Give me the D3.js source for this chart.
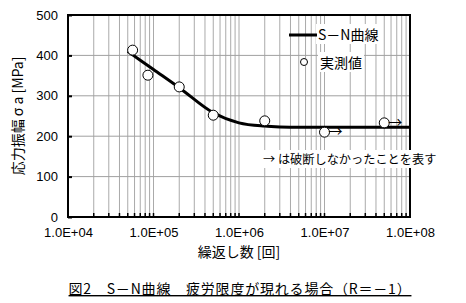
<!DOCTYPE html>
<html>
<head>
<meta charset="utf-8">
<script src="https://cdnjs.cloudflare.com/ajax/libs/d3/7.8.5/d3.min.js"></script>
<style>
  body { margin: 0; background: #fff; }
  text { font-family: "Liberation Sans", "Noto Sans CJK JP", sans-serif; fill: #000; }
  .jp { font-family: "Noto Sans CJK JP", sans-serif; }
</style>
</head>
<body>
<svg></svg>
<script>
// S-N curve (fitted)
var curveN = [5e4, 1e5, 2e5, 5e5, 1e6, 2e6, 3e6, 5e6, 1e7, 1e8];
var curveS = [410, 365, 320, 258, 233, 225, 223, 222, 222, 222];
// measured points
var measN = [5.7e4, 8.6e4, 2e5, 5e5, 2e6, 1e7, 5e7];
var measS = [413, 351, 322, 252, 238, 210, 233];
var runout = [false, false, false, false, false, true, true];
var xTicks = [1e4, 1e5, 1e6, 1e7, 1e8];
var yTicks = [0, 100, 200, 300, 400, 500];

var w = 466, h = 303;
var svg = d3.select("svg").attr("width", w).attr("height", h);
var pl = 68, pr = 410, pt = 15, pb = 217;

var x = d3.scaleLog().domain([1e4, 1e8]).range([pl, pr]);
var y = d3.scaleLinear().domain([0, 500]).range([pb, pt]);

// minor vertical grid
var minor = [];
for (var e = 4; e < 8; e++) {
  for (var k = 1; k < 10; k++) minor.push(k * Math.pow(10, e));
}
minor.push(1e8);
svg.append("g").selectAll("line").data(minor).enter().append("line")
  .attr("x1", d => x(d)).attr("x2", d => x(d))
  .attr("y1", pt).attr("y2", pb)
  .attr("stroke", "#aaa").attr("stroke-width", 1);
// horizontal grid
svg.append("g").selectAll("line").data(yTicks).enter().append("line")
  .attr("x1", pl).attr("x2", pr)
  .attr("y1", d => y(d)).attr("y2", d => y(d))
  .attr("stroke", "#a0a0a0").attr("stroke-width", 1);

// axes
var yAxis = d3.axisLeft(y).tickValues(yTicks).tickSize(-4).tickPadding(10).tickFormat(d3.format("d"));
var gy = svg.append("g").attr("transform", "translate(" + pl + ",0)").call(yAxis);
gy.select(".domain").remove();
gy.selectAll("line").attr("stroke", "#000").attr("stroke-width", 2);
gy.selectAll("text").attr("font-size", 13).style("font-family", "Liberation Sans");

var xAxis = d3.axisBottom(x).tickValues(xTicks).tickSize(0).tickPadding(11)
  .tickFormat(d => "1.0E+0" + Math.round(Math.log10(d)));
var gx = svg.append("g").attr("transform", "translate(0," + pb + ")").call(xAxis);
gx.select(".domain").remove();
gx.selectAll("text").attr("font-size", 13).style("font-family", "Liberation Sans");

// minor ticks at bottom
svg.append("g").selectAll("line").data(minor).enter().append("line")
  .attr("x1", d => x(d)).attr("x2", d => x(d))
  .attr("y1", pb).attr("y2", pb - 4)
  .attr("stroke", "#000").attr("stroke-width", 1.5);

// frame
svg.append("rect").attr("x", pl).attr("y", pt)
  .attr("width", pr - pl).attr("height", pb - pt)
  .attr("fill", "none").attr("stroke", "#000").attr("stroke-width", 2);

// text with white box behind
function label(tx, ty, str, size) {
  var t = svg.append("text").attr("class", "jp").attr("x", tx).attr("y", ty)
    .attr("font-size", size).text(str);
  var b = t.node().getBBox();
  svg.insert("rect", () => t.node()).attr("x", b.x - 2).attr("y", b.y)
    .attr("width", b.width + 4).attr("height", b.height).attr("fill", "#fff");
  return t;
}

// curve
var line = d3.line().x(d => x(d[0])).y(d => y(d[1])).curve(d3.curveMonotoneX);
svg.append("path").datum(curveN.map((n, i) => [n, curveS[i]]))
  .attr("d", line).attr("fill", "none").attr("stroke", "#000").attr("stroke-width", 3);

// points
var pts = measN.map((n, i) => ({n: n, s: measS[i], r: runout[i]}));
svg.append("g").selectAll("circle").data(pts).enter().append("circle")
  .attr("cx", d => x(d.n)).attr("cy", d => y(d.s)).attr("r", 5)
  .attr("fill", "#fff").attr("stroke", "#000").attr("stroke-width", 1);
svg.append("g").selectAll("text").data(pts.filter(d => d.r)).enter().append("text")
  .attr("class", "jp").attr("x", d => x(d.n) + 4).attr("y", d => y(d.s) + 4)
  .attr("font-size", 14).text("→");

// legend
label(318, 40, "S－N曲線", 14);
svg.append("line").attr("x1", 289).attr("x2", 317).attr("y1", 35).attr("y2", 35)
  .attr("stroke", "#000").attr("stroke-width", 3);
label(320, 68, "実測値", 14);
svg.append("circle").attr("cx", 304).attr("cy", 62).attr("r", 3.5)
  .attr("fill", "#fff").attr("stroke", "#000");

// note
label(263, 164, "→ は破断しなかったことを表す", 12.2);

// axis titles
svg.append("text").attr("class", "jp")
  .attr("transform", "translate(23,116) rotate(-90)")
  .attr("text-anchor", "middle").attr("font-size", 14).text("応力振幅 σ a [MPa]");
svg.append("text").attr("class", "jp").attr("x", 239).attr("y", 257)
  .attr("text-anchor", "middle").attr("font-size", 14).text("繰返し数 [回]");

// caption
svg.append("text").attr("class", "jp").attr("x", 240).attr("y", 294)
  .attr("text-anchor", "middle").attr("font-size", 14)
  .attr("letter-spacing", 0.8)
  .style("text-decoration", "underline")
  .text("図2　S－N曲線　疲労限度が現れる場合（R＝－1）");
</script>
</body>
</html>
